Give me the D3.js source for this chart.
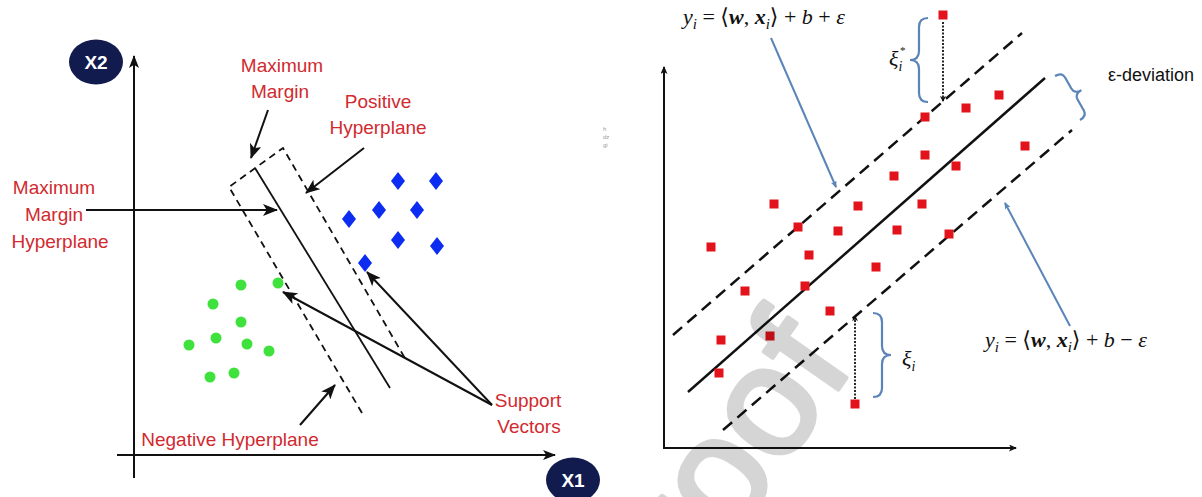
<!DOCTYPE html>
<html>
<head>
<meta charset="utf-8">
<script src="https://cdn.jsdelivr.net/npm/d3@7"></script>
<style>
  body { margin: 0; background: #fff; }
  svg { display: block; }
</style>
</head>
<body>
<script>
// ---- left panel: SVM classification (axis units, origin = axes crossing)
const greenPoints = [
  [10.7, 17.0], [14.4, 17.2], [7.9, 15.1], [10.7, 13.3], [5.5, 11.0],
  [8.2, 11.7], [11.3, 11.1], [13.5, 10.4], [7.6, 7.8], [10.0, 8.2]
]
const bluePoints = [
  [26.4, 27.4], [30.2, 27.4], [24.5, 24.5], [28.3, 24.5],
  [21.5, 23.6], [26.4, 21.5], [30.3, 20.9], [23.1, 19.2]
]
const hyperplane = [[12.1, 28.7], [25.6, 6.7]]
const negativePlane = [[9.5, 26.8], [22.8, 4.2]]
const positivePlane = [[14.9, 30.7], [27.2, 9.5]]
const svmArrows = [
  [[13.4, 34.5], [11.7, 29.7]],   // maximum margin
  [[23.0, 30.7], [17.2, 26.2]],   // positive hyperplane
  [[-4.8, 24.5], [14.3, 24.5]],   // maximum margin hyperplane
  [[35.8, 5.0], [14.9, 16.3]],    // support vector (green)
  [[35.8, 5.0], [23.3, 18.3]],    // support vector (blue)
  [[16.6, 3.0], [20.1, 7.0]]      // negative hyperplane
]

// ---- right panel: SVR
const redPoints = [
  [27.9, 43.3], [33.5, 35.3], [30.2, 34.0], [26.1, 33.1], [36.1, 30.2],
  [26.1, 29.3], [29.2, 28.2], [23.0, 27.2], [11.0, 24.4], [19.4, 24.2],
  [25.8, 24.4], [13.4, 22.1], [17.4, 21.7], [23.3, 21.8], [28.5, 21.4],
  [4.7, 20.1], [14.5, 19.3], [21.2, 18.1], [8.1, 15.7], [14.1, 16.2],
  [16.6, 13.7], [5.7, 10.8], [10.6, 11.2], [5.5, 7.5], [19.1, 4.4]
]
const svrFit = [[2.4, 5.6], [38.1, 37.0]]
const svrUpper = [[0.9, 11.3], [35.8, 41.5]]
const svrLower = [[5.9, 1.8], [40.8, 31.8]]
const slackArrows = [
  [[27.9, 42.6], [27.9, 34.7]],
  [[19.1, 4.9], [19.1, 13.2]]
]
const pointerLines = [
  [[10.7, 41.0], [17.2, 26.1]],
  [[40.6, 12.2], [34.1, 24.5]]
]
const braceXiStar = [[26.4, 43.0], [26.4, 34.6]]
const braceXi = [[20.9, 13.5], [20.9, 5.1]]
const braceEps = [[39.1, 37.2], [41.6, 32.8]]

const W = 1202, H = 497
const red = '#d12a2f', navy = '#111b4d', steel = '#5b84b8'

const svg = d3.select('body').append('svg')
  .attr('width', W)
  .attr('height', H)

// markers
const defs = svg.append('defs')
function marker(id, color, len, half) {
  defs.append('marker')
    .attr('id', id)
    .attr('viewBox', `0 ${-half} ${len} ${half * 2}`)
    .attr('refX', len - 1)
    .attr('refY', 0)
    .attr('markerUnits', 'userSpaceOnUse')
    .attr('markerWidth', len)
    .attr('markerHeight', half * 2)
    .attr('orient', 'auto')
    .append('path')
    .attr('d', `M0,${-half}L${len},0L0,${half}L${len * 0.25},0Z`)
    .attr('fill', color)
}
marker('head', '#111', 15, 6)
marker('axisHead', '#111', 13, 5)
marker('smallHead', '#111', 8, 3.5)
marker('dotHead', '#111', 6, 3)
marker('blueHead', steel, 7, 3)

// ================= left panel =================
const xL = d3.scaleLinear().domain([0, 42]).range([134, 554])
const yL = d3.scaleLinear().domain([0, 40]).range([455, 55])
const left = svg.append('g')

const seg = (g, pts, x, y) => g.append('line')
  .attr('x1', x(pts[0][0])).attr('y1', y(pts[0][1]))
  .attr('x2', x(pts[1][0])).attr('y2', y(pts[1][1]))

// axes
seg(left, [[0, -2.3], [0, 39.9]], xL, yL)
  .attr('stroke', '#111').attr('stroke-width', 2).attr('marker-end', 'url(#axisHead)')
seg(left, [[-1.7, 0], [42.1, 0]], xL, yL)
  .attr('stroke', '#111').attr('stroke-width', 2).attr('marker-end', 'url(#axisHead)')

// margin box + hyperplane
seg(left, hyperplane, xL, yL).attr('stroke', '#111').attr('stroke-width', 1.8)
left.append('path')
  .attr('d', d3.line().x(d => xL(d[0])).y(d => yL(d[1]))(
    [negativePlane[1], negativePlane[0], positivePlane[0], positivePlane[1]]))
  .attr('fill', 'none')
  .attr('stroke', '#111')
  .attr('stroke-width', 1.8)
  .attr('stroke-dasharray', '7,5')

// points
left.selectAll('.green').data(greenPoints).enter().append('circle')
  .attr('cx', d => xL(d[0])).attr('cy', d => yL(d[1]))
  .attr('r', 5.5).attr('fill', '#3fe23c')
left.selectAll('.blue').data(bluePoints).enter().append('path')
  .attr('transform', d => `translate(${xL(d[0])},${yL(d[1])})`)
  .attr('d', 'M0,-9L7,0L0,9L-7,0Z')
  .attr('fill', '#0d2cf2')

// annotation arrows
svmArrows.forEach(a => {
  seg(left, a, xL, yL)
    .attr('stroke', '#111').attr('stroke-width', 2).attr('marker-end', 'url(#head)')
})

// axis badges
function badge(cx, cy, label) {
  left.append('ellipse').attr('cx', cx).attr('cy', cy).attr('rx', 27).attr('ry', 22.5).attr('fill', navy)
  left.append('text').attr('x', cx).attr('y', cy + 7)
    .attr('text-anchor', 'middle')
    .attr('font-family', 'Liberation Sans Narrow, Liberation Sans, Arial, sans-serif')
    .attr('font-size', 19).attr('font-weight', 'bold').attr('fill', '#fff')
    .text(label)
}
badge(96, 62, 'X2')
badge(573, 480, 'X1')

// red labels
const labels = [
  { x: 282, y: 72, t: 'Maximum' }, { x: 280, y: 98, t: 'Margin' },
  { x: 378, y: 108, t: 'Positive' }, { x: 378, y: 134, t: 'Hyperplane' },
  { x: 54, y: 194, t: 'Maximum' }, { x: 54, y: 221, t: 'Margin' }, { x: 60, y: 248, t: 'Hyperplane' },
  { x: 230, y: 446, t: 'Negative Hyperplane' },
  { x: 528, y: 407, t: 'Support' }, { x: 529, y: 433, t: 'Vectors' }
]
left.selectAll('.lbl').data(labels).enter().append('text')
  .attr('x', d => d.x).attr('y', d => d.y)
  .attr('text-anchor', 'middle')
  .attr('font-family', 'Liberation Sans, Arial, sans-serif')
  .attr('font-size', 19)
  .attr('fill', red)
  .text(d => d.t)

// ================= right panel =================
const xR = d3.scaleLinear().domain([0, 35.2]).range([664, 1016])
const yR = d3.scaleLinear().domain([0, 38]).range([448, 68])
const right = svg.append('g')

seg(right, [[0, 0], [0, 38.1]], xR, yR)
  .attr('stroke', '#111').attr('stroke-width', 2).attr('marker-end', 'url(#smallHead)')
seg(right, [[-0.1, 0], [35.2, 0]], xR, yR)
  .attr('stroke', '#111').attr('stroke-width', 2).attr('marker-end', 'url(#smallHead)')

seg(right, svrFit, xR, yR).attr('stroke', '#111').attr('stroke-width', 2.5)
;[svrUpper, svrLower].forEach(l => seg(right, l, xR, yR)
  .attr('stroke', '#111').attr('stroke-width', 2.5).attr('stroke-dasharray', '12,7'))

slackArrows.forEach(a => seg(right, a, xR, yR)
  .attr('stroke', '#111').attr('stroke-width', 1.8).attr('stroke-dasharray', '2,1.5')
  .attr('marker-end', 'url(#dotHead)'))

right.selectAll('.sq').data(redPoints).enter().append('rect')
  .attr('x', d => xR(d[0]) - 4.5).attr('y', d => yR(d[1]) - 4.5)
  .attr('width', 9).attr('height', 9)
  .attr('fill', '#e3131b')

pointerLines.forEach(a => seg(right, a, xR, yR)
  .attr('stroke', steel).attr('stroke-width', 2).attr('marker-end', 'url(#blueHead)'))

// curly braces, built in pixel space from scaled end points
function bracePath(a, b, n, w) {
  const p1 = [xR(a[0]), yR(a[1])], p2 = [xR(b[0]), yR(b[1])]
  const L = Math.hypot(p2[0] - p1[0], p2[1] - p1[1])
  const t = [(p2[0] - p1[0]) / L, (p2[1] - p1[1]) / L]
  const r = Math.min(w / 2, L / 8)
  const off = (p, k, s) => [p[0] + n[0] * k + t[0] * s, p[1] + n[1] * k + t[1] * s]
  const m = [(p1[0] + p2[0]) / 2, (p1[1] + p2[1]) / 2]
  const p = d3.path()
  p.moveTo(...p1)
  p.quadraticCurveTo(...off(p1, w / 2, 0), ...off(p1, w / 2, r))
  p.lineTo(...off(m, w / 2, -r))
  p.quadraticCurveTo(...off(m, w / 2, 0), ...off(m, w, 0))
  p.quadraticCurveTo(...off(m, w / 2, 0), ...off(m, w / 2, r))
  p.lineTo(...off(p2, w / 2, -r))
  p.quadraticCurveTo(...off(p2, w / 2, 0), ...p2)
  return p.toString()
}
;[
  [braceXiStar, [-1, 0], 18],
  [braceXi, [1, 0], 18],
  [braceEps, [0.869, -0.494], 16]
].forEach(([pts, n, w]) => right.append('path')
  .attr('d', bracePath(pts[0], pts[1], n, w))
  .attr('fill', 'none').attr('stroke', steel).attr('stroke-width', 2.2))

// formulas
const serif = 'Liberation Serif, DejaVu Serif, serif'
function formula(x, y, sign) {
  const t = right.append('text').attr('x', x).attr('y', y)
    .attr('font-family', serif).attr('font-size', 22).attr('fill', '#111')
  const parts = [
    { s: 'y', it: 1 }, { s: 'i', it: 1, sub: 1 }, { s: ' = ⟨' },
    { s: 'w', it: 1, b: 1 }, { s: ', ' }, { s: 'x', it: 1, b: 1 }, { s: 'i', it: 1, sub: 1 },
    { s: '⟩ + ' }, { s: 'b', it: 1 }, { s: ` ${sign} ` }, { s: 'ε', it: 1 }
  ]
  let down = false
  parts.forEach(p => {
    const sp = t.append('tspan').text(p.s)
    if (p.it) sp.attr('font-style', 'italic')
    if (p.b) sp.attr('font-weight', 'bold')
    if (p.sub && !down) { sp.attr('dy', 5).attr('font-size', 15); down = true }
    else if (p.sub) sp.attr('font-size', 15)
    else if (down) { sp.attr('dy', -5); down = false }
  })
}
formula(683, 24, '+')
formula(985, 347, '−')

function xiLabel(x, y, star) {
  const t = right.append('text').attr('x', x).attr('y', y)
    .attr('font-family', serif).attr('font-size', 22).attr('font-style', 'italic').attr('fill', '#111')
  t.append('tspan').text('ξ')
  t.append('tspan').attr('dy', 5).attr('font-size', 14).text('i')
  if (star) t.append('tspan').attr('x', x + 11).attr('dy', -17).attr('font-size', 11).attr('font-style', 'normal').text('*')
}
xiLabel(889, 66, true)
xiLabel(902, 366, false)

right.append('text').attr('x', 1108).attr('y', 81)
  .attr('font-family', 'Liberation Sans, Arial, sans-serif')
  .attr('font-size', 18).attr('fill', '#111')
  .text('ε-deviation')

// scan artefact next to the gap
;['h', 'dz', 'gi'].forEach((s, i) => svg.append('text')
  .attr('x', 603).attr('y', 131 + i * 8)
  .attr('font-family', 'Liberation Sans, sans-serif').attr('font-size', 6)
  .attr('fill', '#999').text(s))

// watermark
svg.append('g')
  .attr('opacity', 0.16)
  .append('text')
  .attr('transform', 'translate(855,365) rotate(-55)')
  .attr('text-anchor', 'end')
  .attr('font-family', 'Liberation Sans, Arial, sans-serif')
  .attr('font-size', 155)
  .attr('fill', '#000')
  .attr('stroke', '#000')
  .attr('stroke-width', 5)
  .attr('stroke-linejoin', 'round')
  .text('Proof')
</script>
</body>
</html>
